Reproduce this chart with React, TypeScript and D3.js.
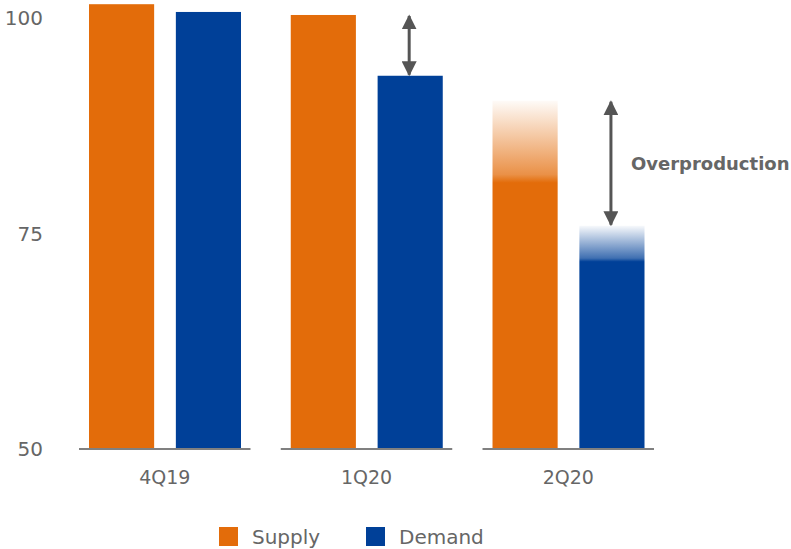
import React from "react";
import * as d3 from "d3";

const categories = ["4Q19", "1Q20", "2Q20"];
const series = ["Supply", "Demand"];
const supplyValues = [101.6, 100.35, 90.4];
const demandValues = [100.7, 93.3, 75.9];
const yTicks = [50, 75, 100];
const arrowGroups = ["1Q20", "2Q20"];
const fadedGroup = "2Q20";
const annotation = "Overproduction";

const W = 791;
const H = 549;
const colors: Record<string, string> = { Supply: "#E36C0A", Demand: "#004098" };
const textColor = "#666666";
const font = "'DejaVu Sans', sans-serif";

export default function App() {
  const y = d3.scaleLinear().domain([50, 100]).range([449, 18]);
  const x0 = d3.scaleBand<string>().domain(categories).range([79, 654]).paddingInner(0.15);
  const x1 = d3.scaleBand<string>().domain(series).range([10, 162]).paddingInner(0.25);
  const base = y(50);

  const valueOf = (s: string, i: number) => (s === "Supply" ? supplyValues[i] : demandValues[i]);

  return (
    <svg width={W} height={H} style={{ position: "absolute", left: 0, top: 0 }}>
      <defs>
        {series.map((s) => {
          const i = categories.indexOf(fadedGroup);
          const h = base - y(valueOf(s, i));
          const fade = s === "Supply" ? 82 : 36;
          const f = fade / h;
          return (
            <linearGradient key={s} id={`fade-${s}`} x1="0" y1="0" x2="0" y2="1">
              <stop offset={0} stopColor={colors[s]} stopOpacity={0.03} />
              <stop offset={f * 0.9} stopColor={colors[s]} stopOpacity={0.75} />
              <stop offset={f} stopColor={colors[s]} stopOpacity={1} />
              <stop offset={1} stopColor={colors[s]} stopOpacity={1} />
            </linearGradient>
          );
        })}
        <marker id="ah" viewBox="0 0 10 10" refX="9" refY="5" markerWidth="5" markerHeight="5" orient="auto-start-reverse" markerUnits="strokeWidth">
          <path d="M0,0 L10,5 L0,10 z" fill="#555555" />
        </marker>
      </defs>

      {/* y tick labels */}
      {yTicks.map((t) => (
        <text key={t} x={43} y={y(t)} dy="0.35em" textAnchor="end" fontFamily={font} fontSize={20} fill={textColor}>
          {t}
        </text>
      ))}

      {/* bars */}
      {categories.map((c, i) => (
        <g key={c} transform={`translate(${x0(c)},0)`}>
          {series.map((s) => {
            const v = valueOf(s, i);
            const fill = c === fadedGroup ? `url(#fade-${s})` : colors[s];
            return (
              <rect key={s} x={x1(s)} y={y(v)} width={x1.bandwidth()} height={base - y(v)} fill={fill} />
            );
          })}
          <line x1={0} x2={x0.bandwidth()} y1={base} y2={base} stroke="#808080" strokeWidth={2} />
          <text x={x0.bandwidth() / 2} y={477} dy="0.35em" textAnchor="middle" fontFamily={font} fontSize={19} fill={textColor}>
            {c}
          </text>
        </g>
      ))}

      {/* arrows */}
      {arrowGroups.map((c) => {
        const i = categories.indexOf(c);
        const ax = (x0(c) as number) + (x1("Demand") as number) + x1.bandwidth() / 2 - 1;
        const yTop = y(supplyValues[i]);
        const yBot = y(demandValues[i]);
        return (
          <g key={c}>
            <line x1={ax} x2={ax} y1={yTop + 1} y2={yBot - 1} stroke="#555555" strokeWidth={3} markerStart="url(#ah)" markerEnd="url(#ah)" />
            {c === fadedGroup && (
              <text x={ax + 20} y={(yTop + yBot) / 2} dy="0.35em" fontFamily={font} fontWeight="bold" fontSize={18} fill={textColor}>
                {annotation}
              </text>
            )}
          </g>
        );
      })}

      {/* legend */}
      {series.map((s, k) => {
        const lx = [219, 366][k];
        return (
          <g key={s}>
            <rect x={lx} y={527} width={19} height={19} fill={colors[s]} />
            <text x={lx + 33} y={537} dy="0.35em" fontFamily={font} fontSize={20} fill={textColor}>
              {s}
            </text>
          </g>
        );
      })}
    </svg>
  );
}
